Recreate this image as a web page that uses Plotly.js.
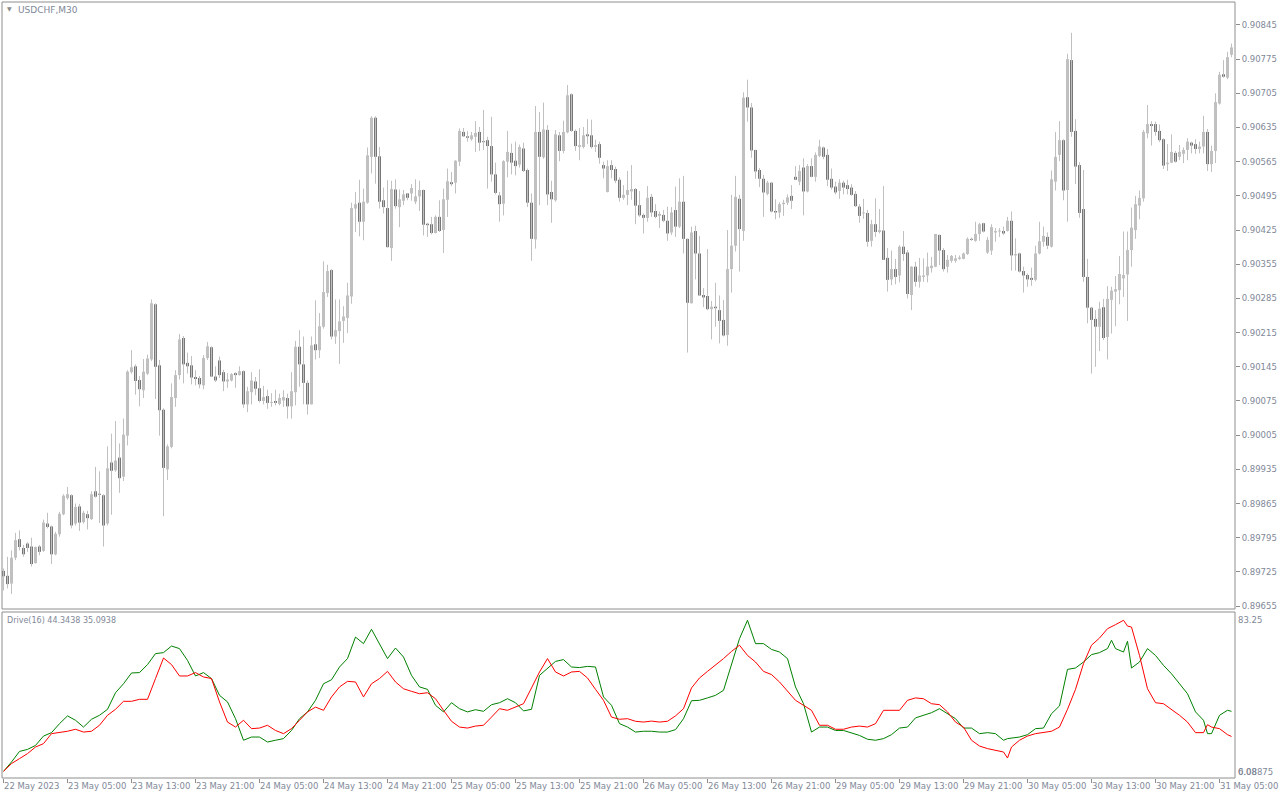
<!DOCTYPE html>
<html>
<head>
<meta charset="utf-8">
<script src="https://cdn.plot.ly/plotly-3.0.1.min.js"></script>
<style>html,body{margin:0;padding:0;background:#fff;}#chart{width:1280px;height:800px;}</style>
</head>
<body>
<div id="chart"></div>
<script>
// ---- USDCHF M30 candles (bar 0 = 22 May 2023 21:00) ----
const symbolTitle = "USDCHF,M30";
const openP = [
0.89727,0.89717,0.89701,0.89754,0.89792,0.89774,0.89783,0.89777,0.89743,0.89777,
0.89768,0.89824,0.89818,0.89761,0.89802,0.89843,0.89876,0.89882,0.89824,0.89859,
0.89827,0.89843,0.89833,0.89890,0.89884,0.89882,0.89824,0.89949,0.89933,0.89959,
0.89920,0.90004,0.90134,0.90146,0.90118,0.90097,0.90131,0.90160,0.90273,0.90148,
0.90057,0.89935,0.89981,0.90081,0.90128,0.90204,0.90153,0.90148,0.90124,0.90122,
0.90107,0.90163,0.90185,0.90125,0.90158,0.90134,0.90115,0.90117,0.90132,0.90128,
0.90136,0.90068,0.90093,0.90115,0.90101,0.90075,0.90085,0.90071,0.90075,0.90069,
0.90076,0.90081,0.90064,0.90093,0.90186,0.90150,0.90112,0.90068,0.90191,0.90179,
0.90227,0.90296,0.90343,0.90207,0.90218,0.90239,0.90245,0.90289,0.90469,0.90481,
0.90442,0.90481,0.90575,0.90655,0.90576,0.90486,0.90470,0.90388,0.90508,0.90472,
0.90485,0.90500,0.90500,0.90483,0.90494,0.90507,0.90438,0.90437,0.90419,0.90452,
0.90425,0.90487,0.90523,0.90522,0.90565,0.90626,0.90617,0.90611,0.90616,0.90626,
0.90607,0.90609,0.90597,0.90539,0.90496,0.90479,0.90565,0.90583,0.90567,0.90559,
0.90592,0.90548,0.90481,0.90406,0.90626,0.90574,0.90630,0.90503,0.90486,0.90619,
0.90587,0.90625,0.90703,0.90628,0.90595,0.90595,0.90621,0.90619,0.90595,0.90601,
0.90558,0.90503,0.90558,0.90550,0.90528,0.90491,0.90497,0.90504,0.90509,0.90476,
0.90456,0.90450,0.90493,0.90464,0.90456,0.90456,0.90444,0.90420,0.90466,0.90432,
0.90483,0.90407,0.90275,0.90423,0.90377,0.90292,0.90290,0.90263,0.90268,0.90261,
0.90241,0.90210,0.90345,0.90393,0.90489,0.90423,0.90697,0.90676,0.90589,0.90548,
0.90530,0.90499,0.90522,0.90464,0.90461,0.90478,0.90481,0.90495,0.90534,0.90524,
0.90553,0.90504,0.90556,0.90534,0.90577,0.90594,0.90579,0.90530,0.90514,0.90505,
0.90522,0.90517,0.90512,0.90499,0.90473,0.90459,0.90460,0.90403,0.90437,0.90421,
0.90424,0.90368,0.90324,0.90345,0.90332,0.90391,0.90379,0.90292,0.90350,0.90319,
0.90329,0.90332,0.90347,0.90350,0.90415,0.90384,0.90350,0.90362,0.90362,0.90366,
0.90366,0.90376,0.90407,0.90403,0.90417,0.90439,0.90379,0.90383,0.90420,0.90422,
0.90423,0.90423,0.90444,0.90373,0.90377,0.90341,0.90333,0.90327,0.90323,0.90377,
0.90401,0.90411,0.90391,0.90524,0.90579,0.90609,0.90507,0.90773,0.90628,0.90558,
0.90468,0.90329,0.90266,0.90243,0.90227,0.90267,0.90206,0.90282,0.90299,0.90302,
0.90326,0.90334,0.90384,0.90425,0.90475,0.90490,0.90623,0.90642,0.90642,0.90628,
0.90611,0.90560,0.90563,0.90583,0.90575,0.90581,0.90589,0.90604,0.90601,0.90591,
0.90596,0.90626,0.90560,0.90587,0.90684,0.90744,0.90737,0.90784];
const highP = [
0.89732,0.89756,0.89769,0.89805,0.89810,0.89780,0.89786,0.89795,0.89777,0.89780,
0.89832,0.89846,0.89820,0.89807,0.89848,0.89884,0.89899,0.89884,0.89865,0.89864,
0.89850,0.89850,0.89890,0.89940,0.89931,0.89884,0.89982,0.90008,0.90034,0.89988,
0.90039,0.90138,0.90179,0.90150,0.90126,0.90161,0.90170,0.90283,0.90275,0.90159,
0.90060,0.89986,0.90111,0.90138,0.90212,0.90208,0.90174,0.90167,0.90138,0.90126,
0.90169,0.90196,0.90187,0.90146,0.90166,0.90139,0.90132,0.90132,0.90134,0.90146,
0.90138,0.90104,0.90134,0.90124,0.90140,0.90106,0.90098,0.90091,0.90098,0.90090,
0.90097,0.90090,0.90134,0.90198,0.90220,0.90207,0.90117,0.90207,0.90281,0.90255,
0.90361,0.90354,0.90345,0.90283,0.90283,0.90269,0.90317,0.90481,0.90503,0.90528,
0.90510,0.90594,0.90658,0.90658,0.90595,0.90512,0.90527,0.90526,0.90529,0.90508,
0.90507,0.90501,0.90519,0.90529,0.90526,0.90508,0.90440,0.90452,0.90455,0.90486,
0.90510,0.90551,0.90544,0.90568,0.90633,0.90634,0.90628,0.90626,0.90648,0.90636,
0.90671,0.90616,0.90657,0.90563,0.90503,0.90568,0.90628,0.90602,0.90606,0.90600,
0.90604,0.90551,0.90500,0.90679,0.90667,0.90686,0.90640,0.90526,0.90630,0.90626,
0.90649,0.90722,0.90705,0.90631,0.90634,0.90636,0.90652,0.90651,0.90610,0.90606,
0.90565,0.90568,0.90568,0.90555,0.90533,0.90517,0.90546,0.90558,0.90511,0.90505,
0.90459,0.90515,0.90499,0.90478,0.90463,0.90466,0.90473,0.90472,0.90514,0.90531,
0.90536,0.90408,0.90432,0.90434,0.90413,0.90306,0.90386,0.90280,0.90317,0.90291,
0.90282,0.90425,0.90497,0.90536,0.90497,0.90707,0.90733,0.90685,0.90590,0.90552,
0.90538,0.90526,0.90523,0.90488,0.90482,0.90487,0.90498,0.90517,0.90556,0.90558,
0.90572,0.90560,0.90572,0.90584,0.90610,0.90596,0.90591,0.90551,0.90524,0.90529,
0.90526,0.90528,0.90519,0.90505,0.90478,0.90489,0.90466,0.90446,0.90490,0.90468,
0.90515,0.90388,0.90383,0.90366,0.90394,0.90423,0.90384,0.90351,0.90360,0.90368,
0.90367,0.90379,0.90370,0.90417,0.90416,0.90388,0.90374,0.90374,0.90374,0.90373,
0.90379,0.90410,0.90410,0.90442,0.90440,0.90440,0.90411,0.90437,0.90429,0.90429,
0.90432,0.90452,0.90463,0.90408,0.90379,0.90350,0.90336,0.90348,0.90393,0.90442,
0.90432,0.90420,0.90547,0.90626,0.90648,0.90611,0.90786,0.90829,0.90652,0.90564,
0.90548,0.90366,0.90268,0.90261,0.90278,0.90284,0.90310,0.90309,0.90331,0.90372,
0.90422,0.90422,0.90471,0.90495,0.90506,0.90630,0.90681,0.90648,0.90647,0.90641,
0.90613,0.90601,0.90621,0.90587,0.90599,0.90594,0.90613,0.90606,0.90611,0.90606,
0.90659,0.90632,0.90598,0.90705,0.90749,0.90773,0.90790,0.90807];
const lowP = [
0.89687,0.89691,0.89680,0.89749,0.89769,0.89756,0.89766,0.89736,0.89742,0.89759,
0.89766,0.89814,0.89741,0.89759,0.89797,0.89841,0.89873,0.89814,0.89820,0.89809,
0.89824,0.89812,0.89831,0.89877,0.89825,0.89777,0.89820,0.89842,0.89930,0.89887,
0.89911,0.89984,0.90131,0.90088,0.90064,0.90081,0.90128,0.90157,0.90079,0.90004,
0.89839,0.89913,0.89978,0.90063,0.90119,0.90111,0.90131,0.90109,0.90107,0.90101,
0.90099,0.90159,0.90124,0.90114,0.90122,0.90095,0.90102,0.90115,0.90102,0.90127,
0.90061,0.90052,0.90068,0.90087,0.90072,0.90068,0.90059,0.90063,0.90066,0.90066,
0.90063,0.90039,0.90039,0.90066,0.90104,0.90068,0.90047,0.90068,0.90160,0.90163,
0.90223,0.90288,0.90201,0.90192,0.90151,0.90194,0.90214,0.90274,0.90421,0.90412,
0.90404,0.90479,0.90541,0.90520,0.90469,0.90459,0.90389,0.90362,0.90469,0.90431,
0.90476,0.90486,0.90485,0.90478,0.90464,0.90414,0.90411,0.90416,0.90418,0.90421,
0.90378,0.90452,0.90515,0.90500,0.90556,0.90616,0.90606,0.90608,0.90585,0.90587,
0.90589,0.90510,0.90524,0.90498,0.90442,0.90455,0.90533,0.90539,0.90537,0.90553,
0.90544,0.90472,0.90362,0.90387,0.90476,0.90571,0.90476,0.90440,0.90483,0.90566,
0.90582,0.90623,0.90626,0.90587,0.90568,0.90592,0.90601,0.90592,0.90585,0.90561,
0.90531,0.90502,0.90531,0.90521,0.90483,0.90487,0.90476,0.90487,0.90437,0.90452,
0.90418,0.90442,0.90452,0.90449,0.90429,0.90441,0.90403,0.90415,0.90411,0.90429,
0.90377,0.90174,0.90275,0.90324,0.90290,0.90267,0.90261,0.90201,0.90227,0.90193,
0.90207,0.90188,0.90297,0.90381,0.90340,0.90403,0.90647,0.90573,0.90530,0.90513,
0.90452,0.90496,0.90461,0.90447,0.90450,0.90454,0.90476,0.90468,0.90528,0.90517,
0.90455,0.90502,0.90533,0.90524,0.90574,0.90570,0.90515,0.90508,0.90498,0.90489,
0.90498,0.90498,0.90495,0.90472,0.90440,0.90448,0.90391,0.90391,0.90411,0.90418,
0.90364,0.90299,0.90312,0.90314,0.90318,0.90362,0.90285,0.90261,0.90309,0.90307,
0.90319,0.90318,0.90338,0.90349,0.90353,0.90340,0.90338,0.90358,0.90358,0.90364,
0.90365,0.90374,0.90403,0.90401,0.90403,0.90420,0.90376,0.90374,0.90401,0.90411,
0.90415,0.90422,0.90342,0.90342,0.90338,0.90297,0.90309,0.90311,0.90320,0.90375,
0.90391,0.90386,0.90389,0.90506,0.90566,0.90486,0.90442,0.90616,0.90519,0.90450,
0.90319,0.90234,0.90131,0.90145,0.90177,0.90200,0.90160,0.90213,0.90228,0.90273,
0.90288,0.90239,0.90350,0.90407,0.90447,0.90483,0.90613,0.90598,0.90618,0.90605,
0.90550,0.90546,0.90562,0.90563,0.90568,0.90562,0.90568,0.90582,0.90581,0.90582,
0.90582,0.90546,0.90544,0.90562,0.90682,0.90737,0.90734,0.90779];
const closeP = [
0.89716,0.89700,0.89754,0.89790,0.89776,0.89761,0.89774,0.89741,0.89776,0.89766,
0.89826,0.89817,0.89761,0.89803,0.89844,0.89881,0.89884,0.89820,0.89858,0.89826,
0.89846,0.89835,0.89884,0.89879,0.89883,0.89820,0.89937,0.89932,0.89953,0.89917,
0.90006,0.90135,0.90144,0.90116,0.90099,0.90135,0.90162,0.90275,0.90145,0.90056,
0.89938,0.89982,0.90083,0.90128,0.90201,0.90150,0.90146,0.90123,0.90120,0.90109,
0.90163,0.90187,0.90125,0.90117,0.90128,0.90115,0.90119,0.90130,0.90128,0.90136,
0.90068,0.90095,0.90117,0.90100,0.90075,0.90083,0.90071,0.90073,0.90071,0.90081,
0.90083,0.90064,0.90095,0.90186,0.90150,0.90112,0.90068,0.90189,0.90179,0.90228,
0.90298,0.90341,0.90207,0.90220,0.90238,0.90248,0.90291,0.90470,0.90478,0.90442,
0.90483,0.90578,0.90655,0.90575,0.90483,0.90472,0.90390,0.90509,0.90474,0.90488,
0.90498,0.90491,0.90511,0.90494,0.90507,0.90436,0.90435,0.90419,0.90452,0.90423,
0.90488,0.90525,0.90519,0.90567,0.90628,0.90617,0.90614,0.90619,0.90624,0.90604,
0.90605,0.90597,0.90539,0.90501,0.90478,0.90566,0.90585,0.90563,0.90556,0.90595,
0.90546,0.90481,0.90407,0.90626,0.90575,0.90631,0.90498,0.90488,0.90621,0.90587,
0.90626,0.90701,0.90628,0.90597,0.90599,0.90619,0.90617,0.90595,0.90599,0.90573,
0.90551,0.90556,0.90548,0.90526,0.90491,0.90497,0.90507,0.90509,0.90475,0.90455,
0.90450,0.90491,0.90461,0.90452,0.90455,0.90444,0.90418,0.90461,0.90432,0.90483,
0.90407,0.90276,0.90420,0.90377,0.90291,0.90287,0.90263,0.90268,0.90265,0.90239,
0.90209,0.90345,0.90393,0.90493,0.90427,0.90696,0.90676,0.90588,0.90545,0.90530,
0.90502,0.90522,0.90463,0.90461,0.90478,0.90481,0.90492,0.90485,0.90528,0.90546,
0.90504,0.90556,0.90534,0.90579,0.90596,0.90575,0.90528,0.90512,0.90502,0.90522,
0.90512,0.90509,0.90497,0.90474,0.90454,0.90460,0.90401,0.90437,0.90421,0.90425,
0.90364,0.90323,0.90345,0.90329,0.90391,0.90376,0.90294,0.90350,0.90319,0.90332,
0.90332,0.90350,0.90352,0.90417,0.90383,0.90345,0.90364,0.90372,0.90367,0.90369,
0.90377,0.90407,0.90405,0.90417,0.90437,0.90422,0.90405,0.90431,0.90423,0.90424,
0.90418,0.90444,0.90373,0.90376,0.90340,0.90332,0.90324,0.90323,0.90377,0.90402,
0.90413,0.90393,0.90529,0.90575,0.90609,0.90506,0.90775,0.90626,0.90555,0.90460,
0.90329,0.90266,0.90241,0.90227,0.90264,0.90204,0.90284,0.90301,0.90304,0.90335,
0.90333,0.90384,0.90430,0.90478,0.90491,0.90626,0.90642,0.90638,0.90626,0.90609,
0.90557,0.90563,0.90585,0.90565,0.90585,0.90589,0.90606,0.90598,0.90591,0.90596,
0.90626,0.90560,0.90587,0.90687,0.90743,0.90739,0.90779,0.90799];

// ---- time axis labels (one every 16 bars = 8 hours) ----
const timeLabels = ["22 May 2023","23 May 05:00","23 May 13:00","23 May 21:00","24 May 05:00",
"24 May 13:00","24 May 21:00","25 May 05:00","25 May 13:00","25 May 21:00","26 May 05:00",
"26 May 13:00","26 May 21:00","29 May 05:00","29 May 13:00","29 May 21:00","30 May 05:00",
"30 May 13:00","30 May 21:00","31 May 05:00"];
const barsPerLabel = 16;

// ---- price scale labels ----
const priceTickStart = 0.89655, priceTickStep = 0.0007, priceTickCount = 18;

// ---- Drive(16) indicator ----
const driveTitle = "Drive(16) 44.3438 35.0938";
const driveTop = "83.25";
const driveBottomA = "6.08";
const driveBottomB = "0.08875";
const driveBar = [
0,2,4,6,8,10,12,14,16,18,
20,22,24,26,28,30,32,34,36,38,
40,42,44,46,48,50,52,54,56,58,
60,62,64,66,68,70,72,74,76,78,
80,82,84,86,88,90,92,94,96,98,
100,102,104,106,108,110,112,114,116,118,
120,122,124,126,128,130,132,134,136,138,
140,142,144,146,148,150,152,154,156,158,
160,162,164,166,168,170,172,174,176,178,
180,182,184,186,188,190,192,194,196,198,
200,202,204,206,208,210,212,214,216,218,
220,222,224,226,228,230,232,234,236,238,
240,242,244,246,248,250,251,252,254,256,
258,260,262,264,266,268,270,272,274,276,
277,278,280,281,282,284,286,288,290,292,
294,296,298,300,301,302,304,306,307];
const driveGreen = [
3.4,8.1,13.4,14.4,16.4,21.1,22.8,27.3,31.2,29.0,
25.6,29.5,31.5,34.5,42.8,47.3,52.7,52.9,56.9,62.4,
62.9,66.2,64.9,59.0,51.2,52.9,49.9,41.5,38.2,29.8,
19.0,20.6,20.6,18.1,19.0,19.8,23.9,29.8,33.2,39.0,
47.3,49.3,55.7,59.9,70.7,67.4,74.6,67.4,59.9,65.2,
60.7,51.5,45.7,44.5,36.5,33.2,37.8,34.8,33.2,34.3,
33.5,36.8,37.8,39.8,37.8,33.7,34.5,51.5,54.9,58.5,
59.4,55.7,55.4,56.0,55.7,40.7,36.5,27.3,25.6,23.1,
23.5,23.5,23.1,23.1,24.3,29.8,38.8,39.0,40.2,41.5,
44.0,56.5,69.9,79.1,67.4,67.4,64.5,63.2,59.9,45.7,
37.3,23.1,25.6,25.6,23.9,23.9,22.8,21.4,19.5,19.0,
19.8,21.8,25.1,25.6,30.2,31.5,32.8,34.8,32.3,29.8,
25.1,25.1,22.3,22.8,22.3,19.0,19.8,20.1,20.6,21.8,
24.8,25.1,32.3,36.2,54.5,55.2,58.2,61.9,62.9,64.9,
69.1,64.9,63.2,68.6,55.2,58.2,64.9,61.5,56.5,52.3,
47.3,42.3,33.2,29.0,22.3,22.3,31.5,34.0,33.5];
const driveRed = [
3.4,7.3,9.8,12.3,15.6,17.3,22.3,22.8,23.5,24.5,
23.1,23.5,26.5,31.5,34.5,38.5,38.5,39.5,39.5,49.9,
60.2,56.9,51.2,51.2,52.9,50.7,49.9,38.2,28.1,25.6,
29.0,24.8,25.1,26.5,23.9,22.3,24.8,29.0,33.2,35.6,
34.0,40.7,45.7,48.5,48.2,40.7,47.3,49.9,53.5,48.2,
44.8,43.5,42.3,42.8,39.8,34.0,28.5,25.6,25.1,26.1,
26.5,30.6,34.8,34.0,35.6,37.3,45.2,53.2,59.9,53.2,
51.2,53.2,53.5,50.2,44.5,39.0,30.6,29.5,29.8,28.5,
28.1,28.6,28.1,28.5,31.2,34.8,45.2,50.2,53.5,56.5,
59.9,63.5,66.6,61.5,58.2,53.5,51.9,48.2,43.5,39.0,
36.5,34.0,26.5,26.5,24.5,24.5,25.6,26.1,25.6,27.3,
34.0,34.0,34.0,39.0,40.2,39.8,37.3,36.8,33.2,28.1,
25.6,19.0,16.1,14.8,13.9,13.1,10.1,15.6,19.0,21.1,
22.3,22.8,23.5,25.6,34.5,44.5,57.4,66.6,70.2,74.9,
75.7,76.9,79.1,76.2,75.7,61.5,44.8,37.8,37.3,34.5,
31.5,28.1,22.8,22.8,26.8,25.6,24.8,21.8,20.9];

// ---------- build ----------
const N = openP.length;
const idx = openP.map((_, i) => i);
const BULL = '#c0c0c0', BEAR = '#777777', WICK = '#c0c0c0';
const TXT = '#7f8898', FRAME = '#8e8e8e';
const FONT = 'DejaVu Sans, Verdana, sans-serif';

const wx = [], wy = [];
for (let i = 0; i < N; i++) { wx.push(i, i, null); wy.push(lowP[i], highP[i], null); }
const minBody = 0.00002;
const bodyBase = idx.map(i => Math.min(openP[i], closeP[i]));
const bodyH = idx.map(i => Math.max(Math.abs(closeP[i] - openP[i]), minBody));
const bodyCol = idx.map(i => closeP[i] >= openP[i] ? BULL : BEAR);

const traces = [
  {type: 'scatter', mode: 'lines', x: wx, y: wy, xaxis: 'x', yaxis: 'y',
   line: {color: WICK, width: 1}, hoverinfo: 'skip', connectgaps: false},
  {type: 'bar', x: idx, y: bodyH, base: bodyBase, width: 0.75, xaxis: 'x', yaxis: 'y',
   marker: {color: bodyCol, line: {width: 0}}, hoverinfo: 'skip'},
  {type: 'scatter', mode: 'lines', x: driveBar, y: driveGreen, xaxis: 'x', yaxis: 'y2',
   line: {color: '#008000', width: 1}, hoverinfo: 'skip'},
  {type: 'scatter', mode: 'lines', x: driveBar, y: driveRed, xaxis: 'x', yaxis: 'y2',
   line: {color: '#ff0000', width: 1}, hoverinfo: 'skip'}
];

// plot geometry (pixels)
const W = 1280, H = 800, ML = 2, MR = 45, MT = 2, MB = 22;
const PW = W - ML - MR, PH = H - MT - MB;
const px2x = p => (p - ML) / PW;
const py2y = p => (H - MB - p) / PH;
const mainDom = [py2y(609), 1];
const indDom = [0, py2y(612)];

const priceTicks = [];
for (let k = 0; k < priceTickCount; k++) priceTicks.push(+(priceTickStart + k * priceTickStep).toFixed(5));
const timeTickVals = timeLabels.map((_, k) => k * barsPerLabel);

const tf = {family: FONT, size: 8.5, color: TXT};
const layout = {
  width: W, height: H,
  margin: {l: ML, r: MR, t: MT, b: MB, pad: 0},
  paper_bgcolor: '#ffffff', plot_bgcolor: '#ffffff',
  showlegend: false,
  xaxis: {range: [-0.375, -0.375 + PW / 4], anchor: 'y2', domain: [0, 1],
    showgrid: false, zeroline: false, showline: false,
    tickmode: 'array', tickvals: timeTickVals, ticktext: timeLabels,
    ticks: 'outside', ticklen: 4, tickwidth: 1, tickcolor: FRAME, tickangle: 0,
    ticklabelposition: 'outside right', tickfont: tf, fixedrange: true},
  yaxis: {domain: mainDom, anchor: 'x', side: 'right', range: [0.89649, 0.90892],
    showgrid: false, zeroline: false, showline: false,
    tickmode: 'array', tickvals: priceTicks, ticktext: priceTicks.map(v => v.toFixed(5)),
    ticks: 'outside', ticklen: 4, tickwidth: 1, tickcolor: FRAME, tickfont: tf, fixedrange: true},
  yaxis2: {domain: indDom, anchor: 'x', side: 'right', range: [0.08, 83.25],
    showgrid: false, zeroline: false, showline: false, showticklabels: false, ticks: '', fixedrange: true},
  shapes: [
    {type: 'rect', xref: 'paper', yref: 'paper', x0: 0, x1: 1, y0: mainDom[0], y1: 1,
     line: {color: FRAME, width: 1}, fillcolor: 'rgba(0,0,0,0)'},
    {type: 'rect', xref: 'paper', yref: 'paper', x0: 0, x1: 1, y0: 0, y1: indDom[1],
     line: {color: FRAME, width: 1}, fillcolor: 'rgba(0,0,0,0)'}
  ],
  annotations: [
    {xref: 'paper', yref: 'paper', x: px2x(5), y: py2y(9), xanchor: 'left', yanchor: 'middle',
     text: '▼', showarrow: false, font: {family: FONT, size: 6, color: '#8a8a8a'}},
    {xref: 'paper', yref: 'paper', x: px2x(16), y: py2y(10), xanchor: 'left', yanchor: 'middle',
     text: symbolTitle, showarrow: false, font: {family: FONT, size: 9, color: TXT}},
    {xref: 'paper', yref: 'paper', x: px2x(5), y: py2y(620), xanchor: 'left', yanchor: 'middle',
     text: driveTitle, showarrow: false, font: {family: FONT, size: 8, color: TXT}},
    {xref: 'paper', yref: 'paper', x: px2x(1236), y: py2y(620), xanchor: 'left', yanchor: 'middle',
     text: driveTop, showarrow: false, font: tf},
    {xref: 'paper', yref: 'paper', x: px2x(1236), y: py2y(772), xanchor: 'left', yanchor: 'middle',
     text: driveBottomA, showarrow: false, font: tf},
    {xref: 'paper', yref: 'paper', x: px2x(1236), y: py2y(772), xanchor: 'left', yanchor: 'middle',
     text: driveBottomB, showarrow: false, font: tf}
  ]
};

Plotly.newPlot('chart', traces, layout, {staticPlot: true, displayModeBar: false});
</script>
</body>
</html>
